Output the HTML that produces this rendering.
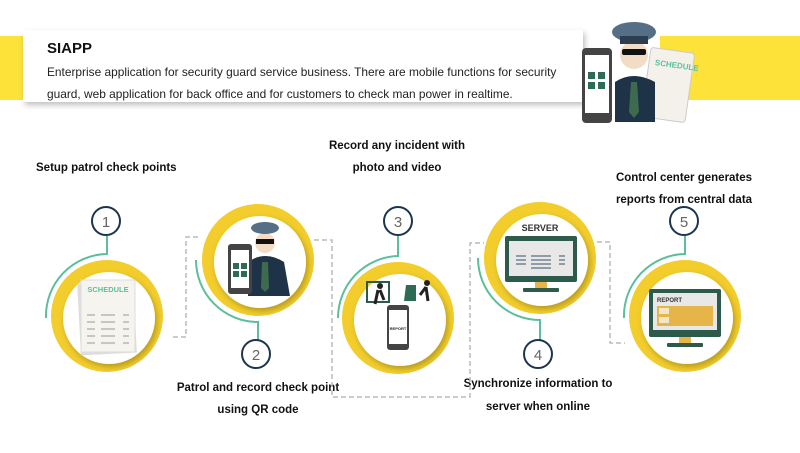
<!DOCTYPE html>
<html><head><meta charset="utf-8"><style>
html,body{margin:0;padding:0;background:#fff;width:800px;height:453px;overflow:hidden}
svg text{font-family:"Liberation Sans",Arial,sans-serif}
</style></head><body>
<svg width="800" height="453" viewBox="0 0 800 453" xmlns="http://www.w3.org/2000/svg">
<defs>
<filter id="sh" x="-20%" y="-20%" width="140%" height="140%"><feDropShadow dx="2" dy="3" stdDeviation="3" flood-color="#000" flood-opacity="0.25"/></filter>
</defs>
<rect x="0" y="36" width="30" height="64" fill="#fde23a"/>
<rect x="660" y="36" width="140" height="64" fill="#fde23a"/>
<rect x="23" y="30" width="560" height="72" fill="#fff" filter="url(#sh)"/>
<rect x="23" y="30" width="560" height="72" fill="#fff"/>
<text x="47" y="53" font-size="15" font-weight="bold" fill="#111">SIAPP</text>
<text x="47" y="76" font-size="11.9" fill="#222">Enterprise application for security guard service business. There are mobile functions for security</text>
<text x="47" y="98" font-size="11.9" fill="#222">guard, web application for back office and for customers to check man power in realtime.</text>
<g>
<rect x="646" y="50" width="44" height="70" rx="3" fill="#f4f1ea" stroke="#ccc" transform="rotate(8 668 85)"/>
<text x="652" y="67" font-size="8" font-weight="bold" fill="#5bbf9a" transform="rotate(8 668 85)">SCHEDULE</text>
<path d="M615 122 L615 82 Q633 70 655 82 L655 122 Z" fill="#1e3347"/>
<path d="M631 82 L637 82 L639 112 L634 118 L629 112 Z" fill="#3e6b50"/>
<circle cx="634" cy="55" r="14" fill="#f3dcc6"/>
<rect x="622" y="49" width="24" height="6" rx="2" fill="#111"/>
<ellipse cx="634" cy="32" rx="22" ry="10" fill="#546f86"/>
<rect x="620" y="36" width="28" height="8" fill="#2d3e50"/>
<rect x="582" y="48" width="30" height="75" rx="4" fill="#444"/>
<rect x="585" y="55" width="24" height="58" fill="#fff"/>
<g fill="#2e6b55"><rect x="588" y="72" width="7" height="7"/><rect x="598" y="72" width="7" height="7"/><rect x="588" y="82" width="7" height="7"/><rect x="598" y="82" width="7" height="7"/></g>
</g>

<g font-size="11.5" font-weight="bold" fill="#111">
<text x="36" y="171">Setup patrol check points</text>
<text x="397" y="149" text-anchor="middle">Record any incident with</text>
<text x="397" y="171" text-anchor="middle">photo and video</text>
<text x="684" y="181" text-anchor="middle">Control center generates</text>
<text x="684" y="203" text-anchor="middle">reports from central data</text>
<text x="258" y="391" text-anchor="middle">Patrol and record check point</text>
<text x="258" y="413" text-anchor="middle">using QR code</text>
<text x="538" y="387" text-anchor="middle">Synchronize information to</text>
<text x="538" y="410" text-anchor="middle">server when online</text>
</g>

<g fill="none" stroke="#bbb" stroke-width="1.5" stroke-dasharray="5,3">
<path d="M173 337 H186 V237 H200"/>
<path d="M314 240 H332 V397 H470 V243 H484"/>
<path d="M597 242 H610 V343 H625"/>
</g>

<g fill="none" stroke="#5bbf9a" stroke-width="2">
<path d="M107 236 V254 A62 62 0 0 0 46 318"/>
<path d="M196 260 A62 62 0 0 0 258 322 V340"/>
<path d="M398 236 V256 A62 62 0 0 0 338 318"/>
<path d="M478 258 A62 62 0 0 0 540 320 V340"/>
<path d="M685 236 V254 A62 62 0 0 0 624 318"/>
</g>

<g fill="#fff" stroke="#1d3450" stroke-width="2">
<circle cx="106" cy="221" r="14"/><circle cx="256" cy="354" r="14"/><circle cx="398" cy="221" r="14"/><circle cx="538" cy="354" r="14"/><circle cx="684" cy="221" r="14"/>
</g>
<g font-size="15" fill="#666" text-anchor="middle">
<text x="106" y="227">1</text><text x="256" y="360">2</text><text x="398" y="227">3</text><text x="538" y="360">4</text><text x="684" y="227">5</text>
</g>

<g>
<circle cx="107" cy="316" r="56" fill="#f2cd2b"/><circle cx="109" cy="318" r="46" fill="#fff" filter="url(#sh)"/>
<circle cx="258" cy="260" r="56" fill="#f2cd2b"/><circle cx="260" cy="262" r="46" fill="#fff" filter="url(#sh)"/>
<circle cx="398" cy="318" r="56" fill="#f2cd2b"/><circle cx="400" cy="320" r="46" fill="#fff" filter="url(#sh)"/>
<circle cx="540" cy="258" r="56" fill="#f2cd2b"/><circle cx="542" cy="260" r="46" fill="#fff" filter="url(#sh)"/>
<circle cx="685" cy="316" r="56" fill="#f2cd2b"/><circle cx="687" cy="318" r="46" fill="#fff" filter="url(#sh)"/>
</g>

<rect x="79" y="282" width="56" height="72" fill="#ddd" transform="rotate(-3 107 318)"/>
<rect x="81" y="280" width="54" height="72" fill="#f6f4ef" stroke="#ddd"/>
<text x="108" y="292" font-size="7.5" font-weight="bold" fill="#5bbf9a" text-anchor="middle">SCHEDULE</text>
<g stroke="#aaa" stroke-width="1.2">
<path d="M87 315h8M87 322h8M87 329h8M87 336h8M87 343h8M101 315h14M101 322h14M101 329h14M101 336h14M101 343h14M123 315h6M123 322h6M123 329h6M123 336h6M123 343h6"/>
</g>

<path d="M248 296 L248 262 Q265 250 284 262 L290 296 Z" fill="#1e3347"/>
<path d="M262 262 L268 262 L269 288 L265 292 L261 288 Z" fill="#3e6b50"/>
<circle cx="265" cy="243" r="10" fill="#f3dcc6"/>
<rect x="256" y="239" width="18" height="5" fill="#111"/>
<ellipse cx="265" cy="228" rx="14" ry="6" fill="#546f86"/>
<rect x="228" y="244" width="24" height="50" rx="3" fill="#444"/>
<rect x="231" y="250" width="18" height="38" fill="#fff"/>
<g fill="#2e6b55"><rect x="233" y="263" width="6" height="6"/><rect x="241" y="263" width="6" height="6"/><rect x="233" y="271" width="6" height="6"/><rect x="241" y="271" width="6" height="6"/></g>

<rect x="367" y="282" width="22" height="20" fill="none" stroke="#2e5a4c" stroke-width="2"/>
<circle cx="380" cy="286" r="3" fill="#222"/><path d="M378 290 l-3 14 M380 290 l4 10" stroke="#222" stroke-width="3"/>
<path d="M406 285 h10 v16 h-12 z" fill="#2e6b55"/>
<circle cx="427" cy="283" r="3" fill="#222"/><path d="M426 287 l-6 8 M426 287 l2 14" stroke="#222" stroke-width="3"/>
<rect x="387" y="305" width="22" height="45" rx="3" fill="#444"/>
<rect x="389" y="310" width="18" height="34" fill="#fff"/>
<text x="398" y="330" font-size="4" font-weight="bold" fill="#222" text-anchor="middle">REPORT</text>

<text x="540" y="231" font-size="9" font-weight="bold" fill="#333" text-anchor="middle">SERVER</text>
<rect x="505" y="236" width="72" height="46" rx="2" fill="#2e5a4c"/>
<rect x="509" y="241" width="64" height="35" fill="#e8e8e8"/>
<rect x="535" y="282" width="12" height="6" fill="#e6b54a"/>
<rect x="523" y="288" width="36" height="4" rx="1" fill="#2e5a4c"/>
<g stroke="#5b6f80" stroke-width="1.2"><path d="M516 256h10M516 260h10M516 264h10M531 256h20M531 260h20M531 264h20M531 268h20M559 256h6M559 260h6M559 264h6"/></g>

<rect x="649" y="289" width="72" height="48" rx="2" fill="#2e5a4c"/>
<rect x="653" y="293" width="64" height="37" fill="#e8e8e8"/>
<text x="657" y="302" font-size="6" font-weight="bold" fill="#333">REPORT</text>
<rect x="657" y="306" width="56" height="20" fill="#e6b54a"/>
<rect x="659" y="308" width="10" height="6" fill="#f3e6c6"/><rect x="659" y="317" width="10" height="6" fill="#f3e6c6"/>
<rect x="679" y="337" width="12" height="6" fill="#e6b54a"/>
<rect x="667" y="343" width="36" height="4" rx="1" fill="#2e5a4c"/>
</svg>
</body></html>
